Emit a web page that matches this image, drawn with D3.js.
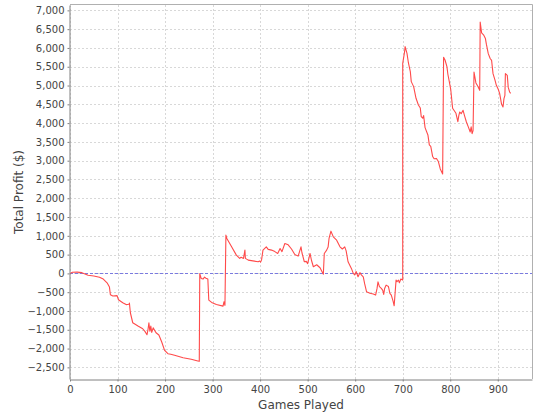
<!DOCTYPE html>
<html>
<head>
<meta charset="utf-8">
<script src="https://cdn.jsdelivr.net/npm/d3@7"></script>
<style>
  html, body { margin: 0; padding: 0; background: #ffffff; }
  svg { display: block; }
  text { font-family: "DejaVu Sans", sans-serif; fill: #444; }
</style>
</head>
<body>
<svg id="chart" width="540" height="420"></svg>
<script>
const games = [0,5,15,25,38,50,62,70,78,83,85,90,99,102,111,118,124,125,127,132,143,153,158,162,164,166,168,170,172,175,181,187,193,199,206,212,220,238,255,269,272,
273,276,280,283,286,290,292,298,308,322,324,326,328,330,340,350,357,360,365,368,369,375,396,399,401,403,406,413,417,424,431,437,442,446,452,459,466,473,480,486,488,493,497,500,505,508,512,519,526,533,
535,540,543,545,549,554,561,568,573,578,581,585,592,596,599,602,606,610,613,617,620,624,631,638,643,646,648,651,655,658,660,662,665,670,673,676,680,682,686,688,691,693,696,700,
700,704,705,709,712,716,718,723,728,733,737,739,742,744,747,753,756,759,763,766,771,775,779,784,786,789,793,795,798,801,805,812,816,818,820,823,827,830,834,838,842,844,846,848,850,854,858,862,863,866,870,874,876,880,884,887,890,894,897,901,904,908,911,913,915,916,920,922,925,927];
const profit = [0,30,35,20,-50,-70,-100,-150,-250,-364,-568,-600,-590,-700,-780,-830,-820,-790,-1047,-1313,-1400,-1473,-1550,-1632,-1500,-1313,-1540,-1400,-1570,-1450,-1578,-1640,-1826,-2047,-2137,-2150,-2180,-2243,-2286,-2331,-2340,
-10,-133,-150,-100,-130,-150,-710,-772,-825,-870,-754,-850,1018,930,707,486,398,430,400,619,400,353,310,330,300,360,619,707,640,620,580,531,664,580,797,760,650,505,460,707,550,310,320,260,531,350,177,230,150,-20,
531,620,700,930,1124,973,885,707,650,707,600,310,133,0,-40,50,-90,20,-40,-90,-280,-489,-530,-550,-577,-400,-223,-350,-400,-450,-560,-400,-311,-350,-530,-580,-750,-861,-178,-220,-178,-250,-150,-178,
5590,5900,6034,5856,5600,5370,5104,4971,4660,4483,4400,4173,4130,4200,3881,3685,3419,3380,3110,3050,3060,2977,2780,2648,5750,5680,5502,5300,5104,4900,4394,4261,4040,4200,4296,4250,4341,4200,4030,3900,3764,3900,3720,3800,5359,5070,4980,4872,6688,6400,6350,6250,6100,5848,5720,5670,5316,5150,5005,4900,4784,4500,4429,4650,4740,5316,5270,4950,4827,4790];
const xTicks = [0,100,200,300,400,500,600,700,800,900];
const yTicks = [-2500,-2000,-1500,-1000,-500,0,500,1000,1500,2000,2500,3000,3500,4000,4500,5000,5500,6000,6500,7000];
const xLabel = "Games Played";
const yLabel = "Total Profit ($)";

const svg = d3.select("#chart");
const mLeft = 70, mRight = 532, mTop = 5, mBottom = 379;

const x = d3.scaleLinear().domain([0, 972]).range([mLeft, mRight]);
const y = d3.scaleLinear().domain([-2810, 7143]).range([mBottom, mTop]);

// grid
const g = svg.append("g");
g.selectAll("line.gx").data(xTicks).join("line")
  .attr("x1", d => Math.round(x(d)) + 0.5).attr("x2", d => Math.round(x(d)) + 0.5)
  .attr("y1", mTop).attr("y2", mBottom)
  .attr("stroke", "#d8d8d8").attr("stroke-dasharray", "2,2").attr("stroke-width", 1);
g.selectAll("line.gy").data(yTicks).join("line")
  .attr("y1", d => Math.round(y(d)) + 0.5).attr("y2", d => Math.round(y(d)) + 0.5)
  .attr("x1", mLeft).attr("x2", mRight)
  .attr("stroke", "#d8d8d8").attr("stroke-dasharray", "2,2").attr("stroke-width", 1);

// plot border top/right
svg.append("line").attr("x1", mLeft).attr("x2", mRight + 0.5).attr("y1", mTop - 0.5).attr("y2", mTop - 0.5)
  .attr("stroke", "#b0b0b0");
svg.append("line").attr("x1", mRight + 0.5).attr("x2", mRight + 0.5).attr("y1", mTop - 0.5).attr("y2", mBottom)
  .attr("stroke", "#b0b0b0");

// zero line
svg.append("line").attr("x1", mLeft).attr("x2", mRight)
  .attr("y1", Math.round(y(0)) + 0.5).attr("y2", Math.round(y(0)) + 0.5)
  .attr("stroke", "#7a7ae0").attr("stroke-dasharray", "3,2").attr("stroke-width", 1);

// line
const pts = games.map((d, i) => [d, profit[i]]);
svg.append("path").datum(pts)
  .attr("fill", "none").attr("stroke", "#ff4a4a").attr("stroke-width", 1.1)
  .attr("stroke-linejoin", "round")
  .attr("d", d3.line().x(d => x(d[0])).y(d => y(d[1])));

// axes
const fmt = d3.format(",");
const xAxis = d3.axisBottom(x).tickValues(xTicks).tickFormat(fmt).tickSizeInner(2).tickSizeOuter(0).tickPadding(4);
const yAxis = d3.axisLeft(y).tickValues(yTicks).tickFormat(fmt).tickSizeInner(2).tickSizeOuter(0).tickPadding(3);

const gx = svg.append("g").attr("transform", `translate(0,${mBottom + 0.5})`).call(xAxis);
const gy = svg.append("g").attr("transform", `translate(${mLeft - 0.5},0)`).call(yAxis);
[gx, gy].forEach(a => {
  a.select(".domain").attr("stroke", "#808080");
  a.selectAll(".tick line").attr("stroke", "#808080");
  a.selectAll(".tick text").attr("font-family", "DejaVu Sans, sans-serif").attr("font-size", 10).attr("fill", "#444");
});

svg.append("text").attr("x", (mLeft + mRight) / 2).attr("y", 409)
  .attr("text-anchor", "middle").attr("font-size", 12).attr("fill", "#444").text(xLabel);
svg.append("text").attr("transform", `translate(23,${(mTop + mBottom) / 2}) rotate(-90)`)
  .attr("text-anchor", "middle").attr("font-size", 12).attr("fill", "#444").text(yLabel);
</script>
</body>
</html>
